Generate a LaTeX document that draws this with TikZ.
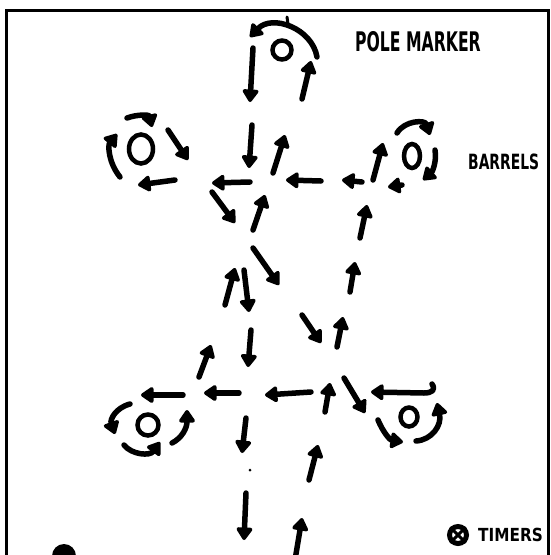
\documentclass[tikz,border=0pt]{standalone}
\usepackage{fontspec}
\setmainfont{DejaVu Sans}
\usepackage{graphicx}
\usetikzlibrary{arrows.meta,shapes.geometric}
\definecolor{sketchink}{HTML}{000000}
\tikzset{
  sketchpen/.style={sketchink, line width=5.5pt, line cap=round, line join=round,
    -{Triangle[length=14pt,width=18pt,round]}},
  barrelring/.style={ellipse, draw=sketchink, line width=4.5pt, inner sep=0pt},
  timermark/.style={circle, draw=sketchink, line width=5pt, inner sep=0pt, minimum size=17pt},
  handlabel/.style={sketchink, anchor=west, inner sep=0pt, font=\bfseries},
}
\newcommand{\stroke}[2]{\draw[sketchpen] (#1) -- (#2);}
\newcommand{\barrel}[4]{\node[barrelring, minimum width=#3, minimum height=#4] (#1) at (#2) {};}

\begin{document}
\begin{tikzpicture}[x=1pt, y=-1pt]
  \useasboundingbox (0,0) rectangle (551,555);
  \clip (0,0) rectangle (551,555);
  \draw[sketchink, line width=3pt] (6,560) -- (6,10.5) -- (548.5,10.5) -- (548.5,560);

  \barrel{polebarrel}{282,50}{19pt}{19pt}
  \barrel{westbarrel}{141,149}{24pt}{29pt}
  \barrel{eastbarrel}{412,156}{16pt}{24pt}
  \barrel{lowwestbarrel}{148,425}{21pt}{21pt}
  \barrel{loweastbarrel}{409,417}{17pt}{19pt}

  \node[handlabel] (polelabel) at (355,42) {\scalebox{0.58}[1]{\fontsize{27}{27}\selectfont POLE MARKER}};
  \node[handlabel] (barrellabel) at (468,162) {\scalebox{0.66}[1]{\fontsize{21}{21}\selectfont BARRELS}};
  \node[handlabel] (timerlabel) at (478,535) {\scalebox{0.85}[1]{\fontsize{18}{18}\selectfont TIMERS}};
  \node[timermark] (timerdot) at (458,535) {};
  \draw[sketchink, line width=3pt] (timerdot.north west) -- (timerdot.south east)
    (timerdot.north east) -- (timerdot.south west);

  \draw[sketchpen] (317,57) .. controls (312,28) and (272,14) .. (250,37);
  \draw[sketchink, line width=3pt, line cap=round] (287,17) -- (288,24);
  \stroke{253,48}{250,102}
  \stroke{302,99}{311,61}

  \draw[sketchpen] (120,177) .. controls (108,162) and (108,145) .. (117,134);
  \draw[sketchpen] (127,118) .. controls (138,114) and (149,115) .. (152,127);
  \stroke{168,130}{188,160}
  \stroke{175,180}{138,185}

  \stroke{252,125}{249,168}
  \stroke{273,173}{285,135}
  \stroke{250,182}{212,183}
  \stroke{321,181}{286,180}
  \stroke{212,192}{235,223}
  \stroke{253,230}{265,195}

  \stroke{373,180}{383,143}
  \draw[sketchpen] (397,133) .. controls (405,120) and (425,120) .. (430,135);
  \draw[sketchpen] (435,150) .. controls (437,162) and (432,172) .. (423,180);
  \stroke{402,185}{388,187}
  \stroke{362,182}{342,180}

  \stroke{360,238}{367,205}
  \stroke{350,292}{355,262}
  \stroke{253,248}{279,285}
  \stroke{225,305}{235,268}
  \stroke{244,270}{249,312}
  \stroke{302,315}{321,343}
  \stroke{337,347}{343,317}
  \stroke{251,330}{248,367}
  \stroke{199,377}{211,345}

  \stroke{183,395}{141,395}
  \draw[sketchpen] (130,404) .. controls (115,408) and (110,420) .. (115,434);
  \draw[sketchpen] (124,445) .. controls (132,455) and (150,456) .. (160,442);
  \draw[sketchpen] (172,443) .. controls (182,438) and (187,428) .. (187,410);
  \stroke{239,393}{204,393}
  \stroke{311,392}{265,395}

  \stroke{325,412}{330,383}
  \stroke{344,378}{365,413}
  \draw[sketchpen] (432,384) .. controls (436,390) and (432,393) .. (424,393) -- (371,392);
  \draw[sketchpen] (378,420) .. controls (383,432) and (390,440) .. (403,442);
  \draw[sketchpen] (416,441) .. controls (432,440) and (442,425) .. (437,403);

  \stroke{246,418}{242,453}
  \fill[sketchink] (250,470) circle (1.5pt);
  \stroke{309,480}{318,445}
  \stroke{246,493}{244,540}
  \stroke{295,560}{302,518}
  \fill[sketchink] (64,556) circle (12pt);
\end{tikzpicture}
\end{document}
